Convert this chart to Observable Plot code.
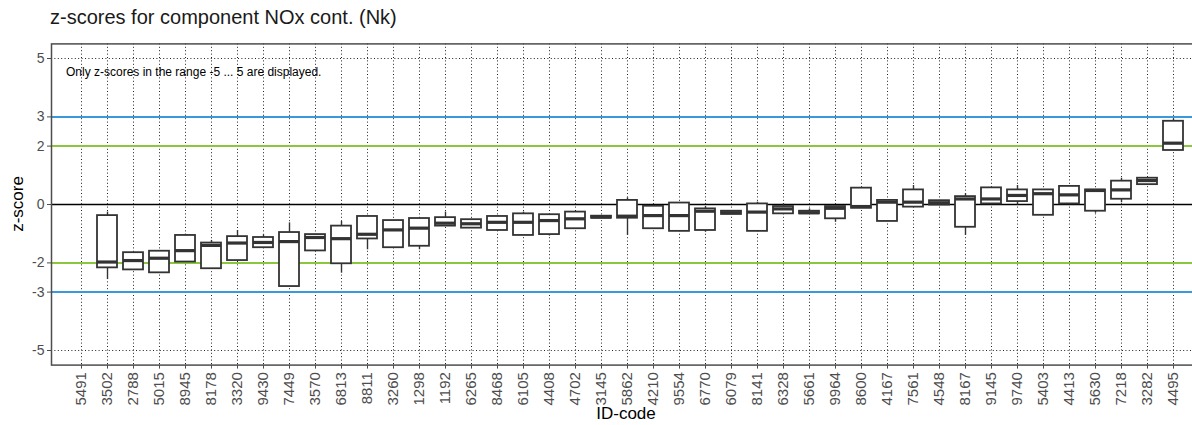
<!DOCTYPE html>
<html><head><meta charset="utf-8">
<script src="https://cdn.jsdelivr.net/npm/d3@7"></script>
<script src="https://cdn.jsdelivr.net/npm/@observablehq/plot@0.6"></script>
<style>
html,body{margin:0;padding:0;background:#fff;overflow:hidden;}
#wrap{position:relative;width:1192px;height:425px;overflow:hidden;font-family:"Liberation Sans",Arial,sans-serif;}
#title{position:absolute;left:50px;top:6px;font-size:20px;color:#1a1a1a;white-space:nowrap;}
#ylab{position:absolute;left:18px;top:204px;font-size:17px;color:#000;transform:translate(-50%,-50%) rotate(-90deg);white-space:nowrap;}
#xlab{position:absolute;left:626px;top:414px;font-size:17px;color:#000;transform:translate(-50%,-50%);white-space:nowrap;}
#note{position:absolute;left:66px;top:72px;font-size:12px;color:#000;transform:translateY(-50%);white-space:nowrap;}
#chart{position:absolute;left:0;top:0;width:1204px;}
</style></head><body>
<div id="wrap"><div id="chart"></div>
<div id="title">z-scores for component NOx cont. (Nk)</div>
<div id="ylab">z-score</div>
<div id="xlab">ID-code</div>
<div id="note">Only z-scores in the range -5 ... 5 are displayed.</div>
</div>
<script>
const ids = ["5491","3502","2788","5015","8945","8178","3320","9430","7449","3570","6813","8811","3260","1298","1192","6265","8468","6105","4408","4702","3145","5862","4210","9554","6770","6079","8141","6328","5661","9964","8600","4167","7561","4548","8167","9145","9740","5403","4413","5630","7218","3282","4495"];
// upper quartile (box top)
const q3 = [null,-0.38,-1.65,-1.60,-1.06,-1.32,-1.10,-1.13,-0.96,-1.03,-0.74,-0.41,-0.55,-0.48,-0.45,-0.52,-0.41,-0.32,-0.35,-0.26,-0.40,0.14,-0.06,0.05,-0.15,-0.23,0.02,-0.07,-0.23,-0.07,0.56,0.14,0.50,0.13,0.27,0.57,0.50,0.50,0.62,0.50,0.80,0.90,2.85];
// median
const med = [null,-1.97,-1.92,-1.84,-1.58,-1.40,-1.32,-1.30,-1.27,-1.13,-1.17,-1.02,-0.87,-0.81,-0.64,-0.66,-0.61,-0.61,-0.55,-0.49,-0.43,-0.40,-0.38,-0.38,-0.23,-0.28,-0.26,-0.15,-0.28,-0.13,-0.07,0.08,0.08,0.06,0.19,0.19,0.31,0.37,0.33,0.48,0.50,0.82,2.10];
// lower quartile (box bottom)
const q1 = [null,-2.17,-2.24,-2.34,-1.97,-2.20,-1.92,-1.48,-2.81,-1.59,-2.03,-1.18,-1.48,-1.43,-0.74,-0.81,-0.89,-1.06,-1.03,-0.83,-0.47,-0.47,-0.83,-0.92,-0.89,-0.34,-0.92,-0.32,-0.32,-0.49,-0.13,-0.58,-0.09,-0.02,-0.78,0.02,0.10,-0.37,0.02,-0.23,0.18,0.68,1.85];
// whisker ends
const whiHi = [null,-0.26,-1.65,-1.60,-1.02,-1.23,-0.89,-1.04,-0.63,-1.03,-0.58,-0.41,-0.55,-0.48,-0.26,-0.52,-0.41,-0.26,-0.35,-0.26,-0.40,0.23,-0.06,0.05,-0.07,-0.23,0.08,0.02,-0.15,-0.07,0.56,0.14,0.65,0.13,0.37,0.57,0.65,0.50,0.62,0.50,0.90,0.90,2.93];
const whiLo = [null,-2.57,-2.24,-2.34,-1.97,-2.20,-1.92,-1.48,-2.81,-1.59,-2.35,-1.55,-1.48,-1.55,-0.74,-0.81,-0.89,-1.06,-1.08,-0.83,-0.47,-1.06,-0.83,-0.92,-0.95,-0.34,-0.92,-0.32,-0.32,-0.61,-0.13,-0.58,-0.09,-0.02,-1.06,0.02,-0.02,-0.37,0.02,-0.30,0.06,0.68,1.85];
const yTicks = [-5,-3,-2,0,2,3,5];
const greenLines = [-2,2];
const blueLines = [-3,3];

const boxes = ids.map((id,i)=>({id,q1:q1[i],med:med[i],q3:q3[i],lo:whiLo[i],hi:whiHi[i]})).filter(d=>d.med!=null);
const dark = "#333333";
const dots = {stroke:"#222", strokeWidth:1, strokeDasharray:"1,2.4"};

const chart = Plot.plot({
  width: 1204, height: 425,
  marginTop: 43.4, marginBottom: 60.4, marginLeft: 51, marginRight: 1,
  style: {fontFamily: "'Liberation Sans', Arial, sans-serif", background: "transparent", maxWidth: "none"},
  x: {type: "band", domain: ids, range: [51, 1203], paddingInner: 0.25, paddingOuter: 0.25},
  y: {domain: [-5.5, 5.5]},
  marks: [
    Plot.ruleX(ids, {x: d => d, ...dots}),
    Plot.ruleY(yTicks, {y: d => d, ...dots}),
    Plot.ruleY(greenLines, {y: d => d, stroke: "#8cc63f", strokeWidth: 2}),
    Plot.ruleY(blueLines, {y: d => d, stroke: "#3a9ad9", strokeWidth: 2}),
    Plot.ruleY([0], {stroke: "#000", strokeWidth: 1.6}),
    Plot.ruleX(boxes, {x: "id", y1: "lo", y2: "hi", stroke: dark, strokeWidth: 1.4}),
    Plot.barY(boxes, {x: "id", y1: "q1", y2: "q3", fill: "white", stroke: dark, strokeWidth: 1.8}),
    Plot.tickY(boxes, {x: "id", y: "med", stroke: dark, strokeWidth: 3.2}),
    Plot.frame({stroke: "#4d4d4d", strokeWidth: 1.5}),
    Plot.axisY(yTicks, {tickSize: 4, tickPadding: 3, fontSize: 14, color: "#4d4d4d", label: null, tickFormat: d => String(d)}),
    Plot.axisX({tickSize: 4, tickPadding: 3, tickRotate: -90, fontSize: 15, color: "#4d4d4d", label: null})
  ]
});
document.getElementById("chart").appendChild(chart);
</script>
</body></html>
